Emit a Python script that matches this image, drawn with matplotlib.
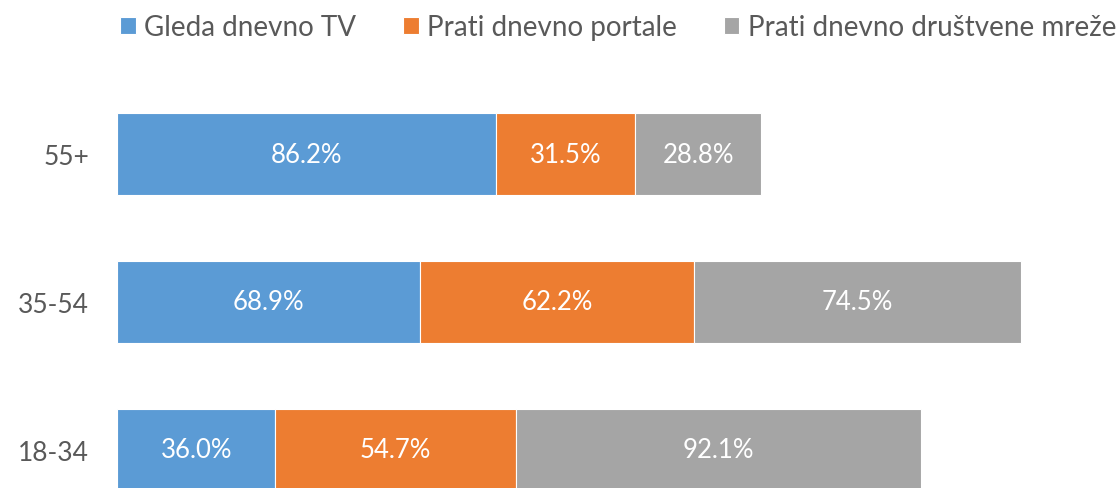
import matplotlib.pyplot as plt
import numpy as np

# Podaci sa grafika
grupe = ["18-34", "35-54", "55+"]
serije = ["Gleda dnevno TV", "Prati dnevno portale", "Prati dnevno društvene mreže"]
tv = [36.0, 68.9, 86.2]
portali = [54.7, 62.2, 31.5]
mreze = [92.1, 74.5, 28.8]
boje = ["#5B9BD5", "#ED7D31", "#A5A5A5"]

plt.rcParams['font.family'] = ['Lato', 'DejaVu Sans']

fig = plt.figure(figsize=(11.2, 4.89), dpi=100)
ax = fig.add_axes([117 / 1120, 0, 1003 / 1120, 409 / 489])

y = np.arange(len(grupe))
levo = np.zeros(len(grupe))
for naziv, vrednosti, boja in zip(serije, [tv, portali, mreze], boje):
    bars = ax.barh(y, vrednosti, left=levo, height=0.56, color=boja,
                   edgecolor="white", linewidth=0.8, label=naziv)
    for b, v in zip(bars, vrednosti):
        ax.text(b.get_x() + b.get_width() / 2, b.get_y() + b.get_height() / 2,
                f"{v:.1f}%", ha="center", va="center", color="white", fontsize=18.5)
    levo += np.array(vrednosti)

ax.set_xlim(0, 228)
ax.set_ylim(-0.257, 2.507)
ax.set_yticks(y)
ax.set_yticklabels(grupe, fontsize=19, color="#595959")
ax.tick_params(axis="y", length=0, pad=20)
ax.set_xticks([])
for s in ax.spines.values():
    s.set_visible(False)

fig.legend(loc="upper center", bbox_to_anchor=(0.552, 1.02), ncol=3, frameon=False,
           fontsize=20, handlelength=0.55, handleheight=0.55, handletextpad=0.3,
           columnspacing=1.7, labelcolor="#595959")

fig.savefig("out.png", dpi=100)
